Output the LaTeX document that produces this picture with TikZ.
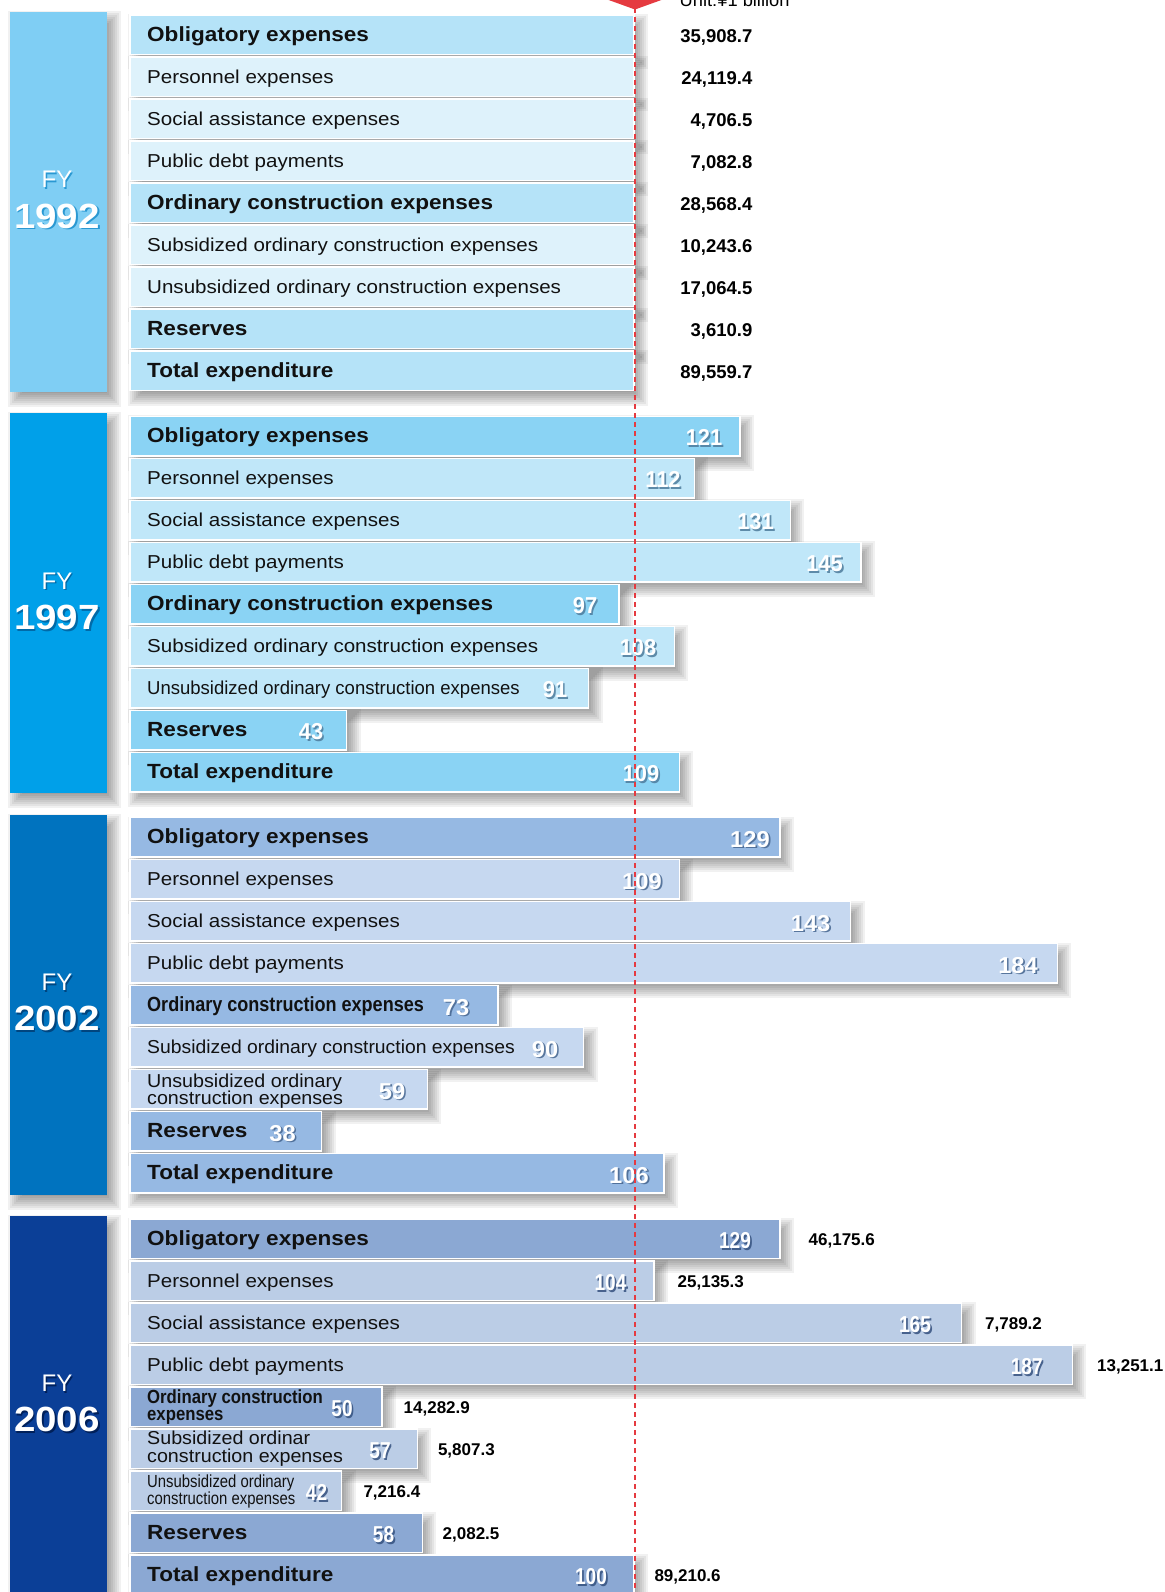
\documentclass[tikz,border=0pt]{standalone}
\usepackage{fontspec}
\usepackage{graphicx}
\setmainfont{Liberation Sans}
\newfontfamily\lab[FakeStretch=1.1]{Liberation Sans}
\definecolor{pan92}{HTML}{7FCEF4}
\definecolor{pan97}{HTML}{00A0E9}
\definecolor{pan02}{HTML}{0073BF}
\definecolor{pan06}{HTML}{0B3F97}
\definecolor{hd92}{HTML}{B5E3F8}
\definecolor{sb92}{HTML}{DEF2FB}
\definecolor{hd97}{HTML}{8AD3F4}
\definecolor{sb97}{HTML}{C0E7F9}
\definecolor{hd02}{HTML}{96B9E3}
\definecolor{sb02}{HTML}{C6D8F0}
\definecolor{hd06}{HTML}{8BA8D3}
\definecolor{sb06}{HTML}{BBCDE6}
\definecolor{redm}{HTML}{E53A40}
\definecolor{ns97}{HTML}{4E7C9C}
\definecolor{ns02}{HTML}{45658F}
\definecolor{ns06}{HTML}{34507E}
\definecolor{fs92}{HTML}{2A98D2}
\definecolor{fs97}{HTML}{006AA8}
\definecolor{fs02}{HTML}{00457F}
\definecolor{fs06}{HTML}{00205A}
\definecolor{ink}{HTML}{111111}
\tikzset{
  hbarbox/.style={draw=white, line width=1.5pt, inner sep=0pt, outer sep=0pt, minimum height=39.5pt, anchor=north west},
  panel/.style={inner sep=0pt, outer sep=0pt, minimum width=97pt, minimum height=380pt, anchor=north west},
  shadowlayer/.style={fill=black, opacity=0.055},
  lbB/.style={anchor=base west, inner sep=0pt, text=ink, font=\lab\fontsize{20.5pt}{24pt}\selectfont\bfseries},
  lbR/.style={anchor=base west, inner sep=0pt, text=ink, font=\lab\fontsize{18.7pt}{22pt}\selectfont},
  numw/.style={anchor=base, inner sep=0pt, text=white, font=\fontsize{23pt}{26pt}\selectfont\bfseries},
  vala/.style={anchor=base east, inner sep=0pt, text=black, font=\fontsize{18.5pt}{22pt}\selectfont\bfseries},
  valb/.style={anchor=base west, inner sep=0pt, text=black, font=\fontsize{17pt}{20pt}\selectfont\bfseries},
  fyt/.style={anchor=base, inner sep=0pt, font=\fontsize{24pt}{28pt}\selectfont},
  yrt/.style={anchor=base, inner sep=0pt, font=\lab\fontsize{35pt}{40pt}\selectfont\bfseries},
  redline/.style={draw=redm, line width=2.4pt, dash pattern=on 5pt off 4pt}
}
% soft shadow: stacked translucent rectangles (x0, y0, width, height)
\newcommand\softshadow[4]{%
  \foreach \k in {-8,-6,-4,-2,0,2,4,6,8}{%
    \fill[shadowlayer] (#1+6-\k,#2+7-\k) rectangle (#1+#3+6+\k,#2+#4+7+\k);
  }%
}
% bar: name, top y, value, fill colour
\newcommand\mkbar[4]{%
  \softshadow{130}{#2}{#3*5.04}{39.5}
  \node[hbarbox, fill=#4, minimum width=#3*5.04pt] (#1) at (130,#2) {};
}
\newcommand\bnum[6]{%
  \node[numw, text=#6, opacity=0.85] (#1s) at (#2+1.7,#3+1.7) {\scalebox{#4}[1]{#5}};
  \node[numw] (#1) at (#2,#3) {\scalebox{#4}[1]{#5}};
}
\newcommand\fyblock[4]{%
  \softshadow{10}{-3}{97}{380}
  \node[panel, fill=#4] (p#1) at (10,-3) {};
  \node[fyt, text=#3] (fys#1) at (58.4,174.4) {FY};
  \node[fyt, text=white] (fy#1) at (57,172.7) {FY};
  \node[yrt, text=#3] (yrs#1) at (58.8,214.8) {#2};
  \node[yrt, text=white] (yr#1) at (57,213) {#2};
}
\begin{document}
\begin{tikzpicture}[x=1pt,y=-1pt]
\useasboundingbox (0,0) rectangle (1164,1592);
\fill[white] (0,0) rectangle (1164,1592);

% ---------------- FY 1992 ----------------
\begin{scope}[shift={(0,15)}]
  \fyblock{92}{1992}{fs92}{pan92}
  \mkbar{b92-0}{0}{100}{hd92}
  \node[lbB] (l92-0) at (147,26.3) {Obligatory expenses};
  \node[vala] (v92-0) at (752.6,27.5) {35,908.7};
  \mkbar{b92-1}{42}{100}{sb92}
  \node[lbR] (l92-1) at (147,68.3) {Personnel expenses};
  \node[vala] (v92-1) at (752.6,69.5) {24,119.4};
  \mkbar{b92-2}{84}{100}{sb92}
  \node[lbR] (l92-2) at (147,110.3) {Social assistance expenses};
  \node[vala] (v92-2) at (752.6,111.5) {4,706.5};
  \mkbar{b92-3}{126}{100}{sb92}
  \node[lbR] (l92-3) at (147,152.3) {Public debt payments};
  \node[vala] (v92-3) at (752.6,153.5) {7,082.8};
  \mkbar{b92-4}{168}{100}{hd92}
  \node[lbB] (l92-4) at (147,194.3) {Ordinary construction expenses};
  \node[vala] (v92-4) at (752.6,195.5) {28,568.4};
  \mkbar{b92-5}{210}{100}{sb92}
  \node[lbR] (l92-5) at (147,236.3) {Subsidized ordinary construction expenses};
  \node[vala] (v92-5) at (752.6,237.5) {10,243.6};
  \mkbar{b92-6}{252}{100}{sb92}
  \node[lbR] (l92-6) at (147,278.3) {Unsubsidized ordinary construction expenses};
  \node[vala] (v92-6) at (752.6,279.5) {17,064.5};
  \mkbar{b92-7}{294}{100}{hd92}
  \node[lbB] (l92-7) at (147,320.3) {Reserves};
  \node[vala] (v92-7) at (752.6,321.5) {3,610.9};
  \mkbar{b92-8}{336}{100}{hd92}
  \node[lbB] (l92-8) at (147,362.3) {Total expenditure};
  \node[vala] (v92-8) at (752.6,363.5) {89,559.7};
\end{scope}

% ---------------- FY 1997 ----------------
\begin{scope}[shift={(0,416.3)}]
  \fyblock{97}{1997}{fs97}{pan97}
  \mkbar{b97-0}{0}{121}{hd97}
  \node[lbB] (l97-0) at (147,26.3) {Obligatory expenses};
  \bnum{n97-0}{704}{29.5}{0.95}{121}{ns97}
  \mkbar{b97-1}{42}{112}{sb97}
  \node[lbR] (l97-1) at (147,68.3) {Personnel expenses};
  \bnum{n97-1}{663}{71.5}{0.95}{112}{ns97}
  \mkbar{b97-2}{84}{131}{sb97}
  \node[lbR] (l97-2) at (147,110.3) {Social assistance expenses};
  \bnum{n97-2}{755.5}{113.5}{0.95}{131}{ns97}
  \mkbar{b97-3}{126}{145}{sb97}
  \node[lbR] (l97-3) at (147,152.3) {Public debt payments};
  \bnum{n97-3}{824.5}{155.5}{0.95}{145}{ns97}
  \mkbar{b97-4}{168}{97}{hd97}
  \node[lbB] (l97-4) at (147,194.3) {Ordinary construction expenses};
  \bnum{n97-4}{585}{197.5}{0.95}{97}{ns97}
  \mkbar{b97-5}{210}{108}{sb97}
  \node[lbR] (l97-5) at (147,236.3) {Subsidized ordinary construction expenses};
  \bnum{n97-5}{638}{239.5}{0.95}{108}{ns97}
  \mkbar{b97-6}{252}{91}{sb97}
  \node[lbR] (l97-6) at (147,278.3) {\scalebox{0.9}[1]{Unsubsidized ordinary construction expenses}};
  \bnum{n97-6}{555}{281.5}{0.95}{91}{ns97}
  \mkbar{b97-7}{294}{43}{hd97}
  \node[lbB] (l97-7) at (147,320.3) {Reserves};
  \bnum{n97-7}{311}{323.5}{0.95}{43}{ns97}
  \mkbar{b97-8}{336}{109}{hd97}
  \node[lbB] (l97-8) at (147,362.3) {Total expenditure};
  \bnum{n97-8}{641}{365.5}{0.95}{109}{ns97}
\end{scope}

% ---------------- FY 2002 ----------------
\begin{scope}[shift={(0,817.6)}]
  \fyblock{02}{2002}{fs02}{pan02}
  \mkbar{b02-0}{0}{129}{hd02}
  \node[lbB] (l02-0) at (147,26.3) {Obligatory expenses};
  \bnum{n02-0}{750}{29.5}{1.03}{129}{ns02}
  \mkbar{b02-1}{42}{109}{sb02}
  \node[lbR] (l02-1) at (147,68.3) {Personnel expenses};
  \bnum{n02-1}{642}{71.5}{1.03}{109}{ns02}
  \mkbar{b02-2}{84}{143}{sb02}
  \node[lbR] (l02-2) at (147,110.3) {Social assistance expenses};
  \bnum{n02-2}{810.6}{113.5}{1.03}{143}{ns02}
  \mkbar{b02-3}{126}{184}{sb02}
  \node[lbR] (l02-3) at (147,152.3) {Public debt payments};
  \bnum{n02-3}{1018}{155.5}{1.03}{184}{ns02}
  \mkbar{b02-4}{168}{73}{hd02}
  \node[lbB] (l02-4) at (147,194.3) {\scalebox{0.8}[1]{Ordinary construction expenses}};
  \bnum{n02-4}{456}{197.5}{1.03}{73}{ns02}
  \mkbar{b02-5}{210}{90}{sb02}
  \node[lbR] (l02-5) at (147,236.3) {\scalebox{0.94}[1]{Subsidized ordinary construction expenses}};
  \bnum{n02-5}{545}{239.5}{1.03}{90}{ns02}
  \mkbar{b02-6}{252}{59}{sb02}
  \node[lbR] (l02-6a) at (147,269.4) {\scalebox{0.957}[1]{Unsubsidized ordinary}};
  \node[lbR] (l02-6b) at (147,286.7) {\scalebox{0.957}[1]{construction expenses}};
  \bnum{n02-6}{392}{281.5}{1.03}{59}{ns02}
  \mkbar{b02-7}{294}{38}{hd02}
  \node[lbB] (l02-7) at (147,320.3) {Reserves};
  \bnum{n02-7}{282.5}{323.5}{1.03}{38}{ns02}
  \mkbar{b02-8}{336}{106}{hd02}
  \node[lbB] (l02-8) at (147,362.3) {Total expenditure};
  \bnum{n02-8}{629}{365.5}{1.03}{106}{ns02}
\end{scope}

% ---------------- FY 2006 ----------------
\begin{scope}[shift={(0,1218.9)}]
  \fyblock{06}{2006}{fs06}{pan06}
  \mkbar{b06-0}{0}{129}{hd06}
  \node[lbB] (l06-0) at (147,26.3) {Obligatory expenses};
  \bnum{n06-0}{735}{29.5}{0.83}{129}{ns06}
  \node[valb] (v06-0) at (808.5,27) {46,175.6};
  \mkbar{b06-1}{42}{104}{sb06}
  \node[lbR] (l06-1) at (147,68.3) {Personnel expenses};
  \bnum{n06-1}{610.5}{71.5}{0.83}{104}{ns06}
  \node[valb] (v06-1) at (677.5,69) {25,135.3};
  \mkbar{b06-2}{84}{165}{sb06}
  \node[lbR] (l06-2) at (147,110.3) {Social assistance expenses};
  \bnum{n06-2}{915}{113.5}{0.83}{165}{ns06}
  \node[valb] (v06-2) at (985,111) {7,789.2};
  \mkbar{b06-3}{126}{187}{sb06}
  \node[lbR] (l06-3) at (147,152.3) {Public debt payments};
  \bnum{n06-3}{1026.7}{155.5}{0.83}{187}{ns06}
  \node[valb] (v06-3) at (1097,153) {13,251.1};
  \mkbar{b06-4}{168}{50}{hd06}
  \node[lbB, font=\lab\fontsize{19pt}{22pt}\selectfont\bfseries] (l06-4a) at (147,184.5) {\scalebox{0.8}[1]{Ordinary construction}};
  \node[lbB, font=\lab\fontsize{19pt}{22pt}\selectfont\bfseries] (l06-4b) at (147,201.8) {\scalebox{0.8}[1]{expenses}};
  \bnum{n06-4}{342}{197.5}{0.83}{50}{ns06}
  \node[valb] (v06-4) at (403.5,195) {14,282.9};
  \mkbar{b06-5}{210}{57}{sb06}
  \node[lbR] (l06-5a) at (147,226) {\scalebox{0.957}[1]{Subsidized ordinar}};
  \node[lbR] (l06-5b) at (147,244) {\scalebox{0.957}[1]{construction expenses}};
  \bnum{n06-5}{380}{239.5}{0.83}{57}{ns06}
  \node[valb] (v06-5) at (437.8,237) {5,807.3};
  \mkbar{b06-6}{252}{42}{sb06}
  \node[lbR, font=\lab\fontsize{17.5pt}{20pt}\selectfont] (l06-6a) at (147,269) {\scalebox{0.773}[1]{Unsubsidized ordinary}};
  \node[lbR, font=\lab\fontsize{17.5pt}{20pt}\selectfont] (l06-6b) at (147,286) {\scalebox{0.773}[1]{construction expenses}};
  \bnum{n06-6}{316.6}{281.5}{0.83}{42}{ns06}
  \node[valb] (v06-6) at (363.3,279) {7,216.4};
  \mkbar{b06-7}{294}{58}{hd06}
  \node[lbB] (l06-7) at (147,320.3) {Reserves};
  \bnum{n06-7}{383.6}{323.5}{0.83}{58}{ns06}
  \node[valb] (v06-7) at (442.5,321) {2,082.5};
  \mkbar{b06-8}{336}{100}{hd06}
  \node[lbB] (l06-8) at (147,362.3) {Total expenditure};
  \bnum{n06-8}{591}{365.5}{0.83}{100}{ns06}
  \node[valb] (v06-8) at (654.3,363) {89,210.6};
\end{scope}

% ---------------- reference line ----------------
\node[anchor=base west, inner sep=0pt, font=\fontsize{18.3pt}{22pt}\selectfont] (unit) at (679.5,7) {Unit:¥1 billion};
\fill[redm] (592,-6) -- (678,-6) -- (635,9.5) -- cycle;
\coordinate (dtop) at (635,8);
\coordinate (dbot) at (635,1592);
\draw[redline] (dtop) -- (dbot);
\end{tikzpicture}
\end{document}
